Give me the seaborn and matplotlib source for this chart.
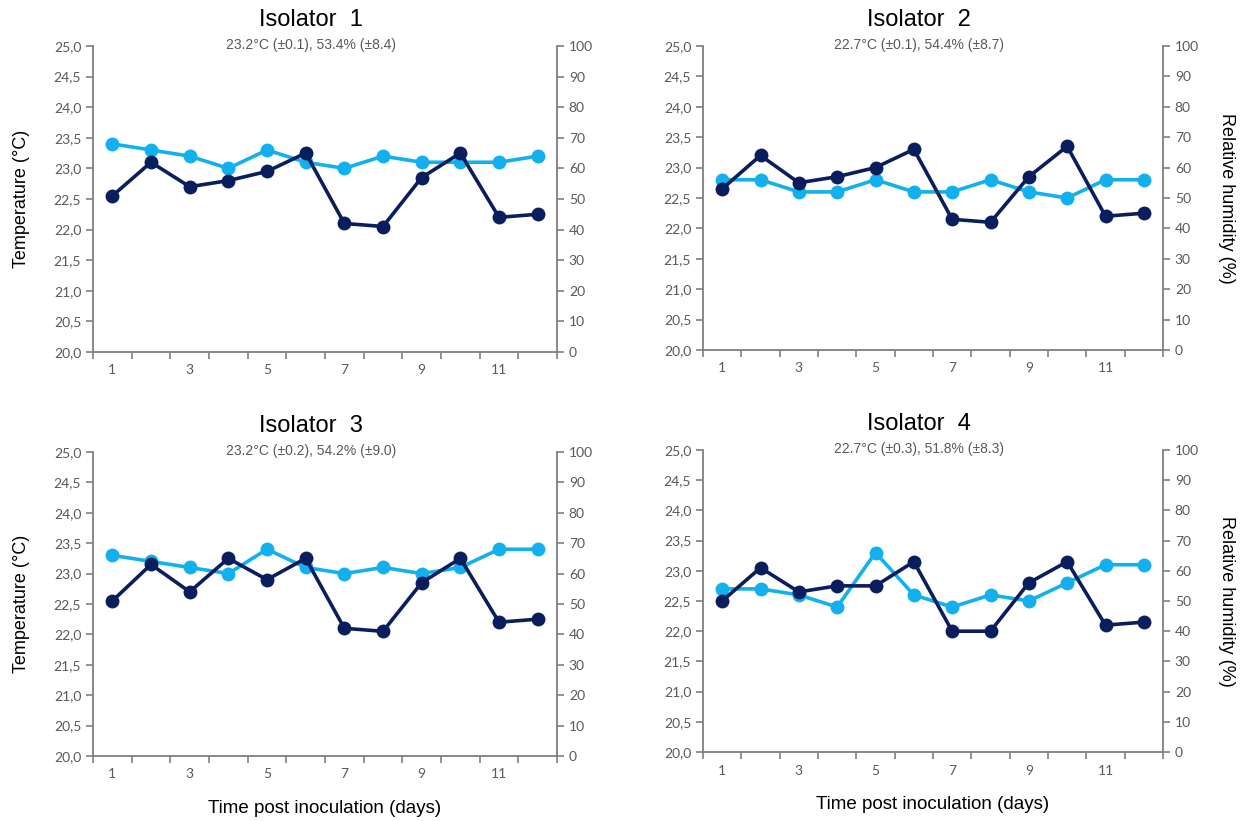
import numpy as np
import pandas as pd
import matplotlib
matplotlib.use('Agg')
import matplotlib.pyplot as plt
import seaborn as sns

# data
days = list(range(1, 13))
isolators = ['Isolator  1', 'Isolator  2', 'Isolator  3', 'Isolator  4']
summaries = ['23.2°C (±0.1), 53.4% (±8.4)',
             '22.7°C (±0.1), 54.4% (±8.7)',
             '23.2°C (±0.2), 54.2% (±9.0)',
             '22.7°C (±0.3), 51.8% (±8.3)']

temp_1 = [23.4, 23.3, 23.2, 23.0, 23.3, 23.1, 23.0, 23.2, 23.1, 23.1, 23.1, 23.2]
temp_2 = [22.8, 22.8, 22.6, 22.6, 22.8, 22.6, 22.6, 22.8, 22.6, 22.5, 22.8, 22.8]
temp_3 = [23.3, 23.2, 23.1, 23.0, 23.4, 23.1, 23.0, 23.1, 23.0, 23.1, 23.4, 23.4]
temp_4 = [22.7, 22.7, 22.6, 22.4, 23.3, 22.6, 22.4, 22.6, 22.5, 22.8, 23.1, 23.1]

rh_1 = [51, 62, 54, 56, 59, 65, 42, 41, 57, 65, 44, 45]
rh_2 = [53, 64, 55, 57, 60, 66, 43, 42, 57, 67, 44, 45]
rh_3 = [51, 63, 54, 65, 58, 65, 42, 41, 57, 65, 44, 45]
rh_4 = [50, 61, 53, 55, 55, 63, 40, 40, 56, 63, 42, 43]

temps = [temp_1, temp_2, temp_3, temp_4]
rhs = [rh_1, rh_2, rh_3, rh_4]

temp_ticks = np.arange(20.0, 25.01, 0.5)
rh_ticks = np.arange(0, 101, 10)

light_blue = '#12B0EE'
navy = '#0A1E5E'
spine_grey = '#7F7F7F'
tick_grey = '#595959'

sns.set_style('ticks')
plt.rcParams['font.family'] = ['Liberation Sans', 'DejaVu Sans']
tick_font = ['Lato', 'DejaVu Sans']

fig = plt.figure(figsize=(12.5, 8.21), dpi=100)

# panel rectangles (left, bottom, width, height)
rects = [(0.0744, 0.5713, 0.3712, 0.3727),
         (0.5624, 0.5737, 0.3680, 0.3703),
         (0.0744, 0.0792, 0.3712, 0.3703),
         (0.5624, 0.0840, 0.3680, 0.3680)]

for i in range(4):
    ax = fig.add_axes(rects[i])
    ax2 = ax.twinx()
    df = pd.DataFrame({'day': days, 'temp': temps[i], 'rh': rhs[i]})

    sns.lineplot(data=df, x='day', y='temp', ax=ax, color=light_blue, lw=2.6,
                 marker='o', markersize=10, markeredgewidth=0, zorder=3)
    sns.lineplot(data=df, x='day', y='rh', ax=ax2, color=navy, lw=2.6,
                 marker='o', markersize=10, markeredgewidth=0, zorder=3)

    ax.set_xlim(0.5, 12.5)
    ax.set_ylim(20, 25)
    ax2.set_ylim(0, 100)
    ax.set_yticks(temp_ticks)
    ax.set_yticklabels([f'{t:.1f}'.replace('.', ',') for t in temp_ticks], family=tick_font)
    ax2.set_yticks(rh_ticks)
    ax2.set_yticklabels([str(t) for t in rh_ticks], family=tick_font)

    ax.set_xticks([1, 3, 5, 7, 9, 11])
    ax.set_xticklabels(['1', '3', '5', '7', '9', '11'], family=tick_font)
    ax.set_xticks(np.arange(0.5, 12.6, 1), minor=True)
    ax.tick_params(axis='x', which='major', length=0, pad=9, labelsize=10, labelcolor=tick_grey)
    ax.tick_params(axis='x', which='minor', length=5, width=1.2, color=spine_grey)
    ax.tick_params(axis='y', length=5, width=1.2, color=spine_grey, labelsize=10, labelcolor=tick_grey)
    ax2.tick_params(axis='y', length=5, width=1.2, color=spine_grey, labelsize=10, labelcolor=tick_grey)

    for a in (ax, ax2):
        a.spines['top'].set_visible(False)
        for s in ('left', 'right', 'bottom'):
            a.spines[s].set_color(spine_grey)
            a.spines[s].set_linewidth(1.3)
    ax.spines['right'].set_visible(False)
    ax2.spines['left'].set_visible(False)
    ax2.spines['bottom'].set_visible(False)

    ax.set_xlabel('')
    ax.set_ylabel('')
    ax2.set_ylabel('')
    if i % 2 == 0:
        ax.set_ylabel('Temperature (°C)', fontsize=13, color='black', labelpad=17)
    else:
        ax2.set_ylabel('Relative humidity (%)', fontsize=13, color='black',
                       rotation=270, labelpad=26)
    if i >= 2:
        ax.set_xlabel('Time post inoculation (days)', fontsize=13.5, color='black', labelpad=14)

    ax.text(0.47, 1.085, isolators[i], transform=ax.transAxes, ha='center', va='center',
            fontsize=17, color='black')
    ax.text(0.47, 1.003, summaries[i], transform=ax.transAxes, ha='center', va='center',
            fontsize=10, color=tick_grey)

fig.savefig('out.png', dpi=100)
